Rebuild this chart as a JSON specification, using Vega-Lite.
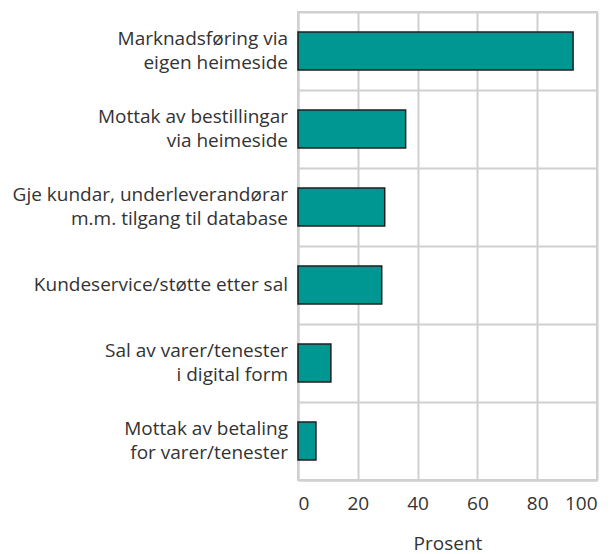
{
  "$schema": "https://vega.github.io/schema/vega-lite/v6.json",
  "autosize": {"type": "none"},
  "padding": {"left": 298, "top": 12, "right": 19, "bottom": 74},
  "width": 299,
  "height": 468,
  "background": "white",
  "data": {
    "values": [
      {"kategori": "Marknadsføring via eigen heimeside", "linje1": "Marknadsføring via", "linje2": "eigen heimeside", "einlinje": "", "prosent": 92},
      {"kategori": "Mottak av bestillingar via heimeside", "linje1": "Mottak av bestillingar", "linje2": "via heimeside", "einlinje": "", "prosent": 36},
      {"kategori": "Gje kundar, underleverandørar m.m. tilgang til database", "linje1": "Gje kundar, underleverandørar", "linje2": "m.m. tilgang til database", "einlinje": "", "prosent": 29},
      {"kategori": "Kundeservice/støtte etter sal", "linje1": "", "linje2": "", "einlinje": "Kundeservice/støtte etter sal", "prosent": 28},
      {"kategori": "Sal av varer/tenester i digital form", "linje1": "Sal av varer/tenester", "linje2": "i digital form", "einlinje": "", "prosent": 11},
      {"kategori": "Mottak av betaling for varer/tenester", "linje1": "Mottak av betaling", "linje2": "for varer/tenester", "einlinje": "", "prosent": 6}
    ]
  },
  "encoding": {
    "y": {
      "field": "kategori",
      "type": "nominal",
      "sort": null,
      "scale": {"paddingInner": 0, "paddingOuter": 0},
      "axis": {
        "title": null,
        "labels": false,
        "ticks": false,
        "grid": true,
        "tickBand": "extent",
        "gridColor": "#d0d0d0",
        "gridWidth": 2,
        "domainColor": "#d0d0d0",
        "domainWidth": 2
      }
    }
  },
  "layer": [
    {
      "mark": {"type": "bar", "fill": "#009691", "stroke": "#1e1e1e", "strokeWidth": 1.5, "size": 38},
      "encoding": {
        "x": {
          "field": "prosent",
          "type": "quantitative",
          "scale": {"domain": [0, 100], "nice": false},
          "axis": {
            "title": "Prosent",
            "values": [0, 20, 40, 60, 80, 100],
            "titleFont": "Open Sans",
            "titleFontSize": 19,
            "titleFontWeight": "normal",
            "titleColor": "#333333",
            "titlePadding": 21,
            "labelFont": "Open Sans",
            "labelFontSize": 19,
            "labelColor": "#333333",
            "labelPadding": 14,
            "ticks": false,
            "grid": true,
            "gridColor": "#d0d0d0",
            "gridWidth": 2,
            "domainColor": "#d0d0d0",
            "domainWidth": 2
          }
        }
      }
    },
    {
      "mark": {"type": "text", "align": "right", "baseline": "middle", "dx": -10, "dy": -12, "font": "Open Sans", "fontSize": 19, "color": "#333333"},
      "encoding": {"x": {"datum": 0, "type": "quantitative"}, "text": {"field": "linje1"}}
    },
    {
      "mark": {"type": "text", "align": "right", "baseline": "middle", "dx": -10, "dy": 12, "font": "Open Sans", "fontSize": 19, "color": "#333333"},
      "encoding": {"x": {"datum": 0, "type": "quantitative"}, "text": {"field": "linje2"}}
    },
    {
      "mark": {"type": "text", "align": "right", "baseline": "middle", "dx": -10, "dy": 0, "font": "Open Sans", "fontSize": 19, "color": "#333333"},
      "encoding": {"x": {"datum": 0, "type": "quantitative"}, "text": {"field": "einlinje"}}
    }
  ],
  "config": {"view": {"stroke": "#d0d0d0", "strokeWidth": 2}}
}
